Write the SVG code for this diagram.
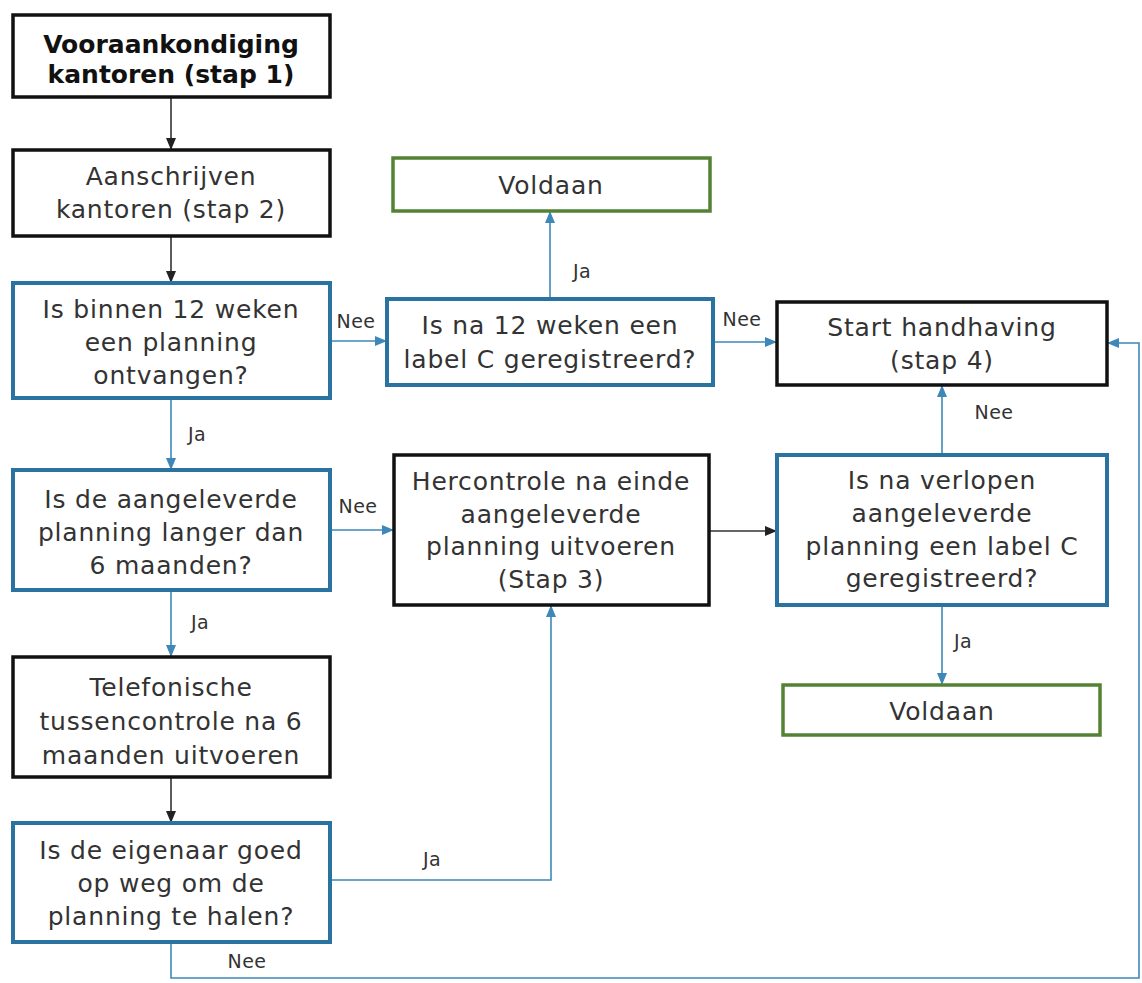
<svg xmlns="http://www.w3.org/2000/svg" width="1142" height="983" viewBox="0 0 1142 983">
<style>
.bk{fill:#fff;stroke:#111;stroke-width:3.5}
.bl{fill:#fff;stroke:#2a73a0;stroke-width:4}
.gr{fill:#fff;stroke:#548235;stroke-width:3.5}
.t{font-family:"DejaVu Sans",Verdana,sans-serif;font-size:25px;letter-spacing:0.8px;fill:#333;text-anchor:middle}
.tb{font-family:"DejaVu Sans",Verdana,sans-serif;font-size:25px;font-weight:bold;fill:#111;text-anchor:middle}
.l{font-family:"DejaVu Sans",Verdana,sans-serif;font-size:19px;letter-spacing:0.5px;fill:#333;text-anchor:middle}
.cb{fill:none;stroke:#333;stroke-width:1.6}
.cu{fill:none;stroke:#3d88b8;stroke-width:1.6}
</style>
<defs>
<marker id="ab" markerUnits="userSpaceOnUse" markerWidth="12" markerHeight="12" viewBox="0 0 12 12" refX="11" refY="6" orient="auto"><path d="M0,1 L12,6 L0,11 Z" fill="#222"/></marker>
<marker id="au" markerUnits="userSpaceOnUse" markerWidth="12" markerHeight="12" viewBox="0 0 12 12" refX="11" refY="6" orient="auto"><path d="M0,1 L12,6 L0,11 Z" fill="#3d88b8"/></marker>
</defs>
<rect width="1142" height="983" fill="#fff"/>
<g id="connectors">
<path class="cb" d="M171,98 V149" marker-end="url(#ab)"/>
<path class="cb" d="M171,237 V282" marker-end="url(#ab)"/>
<path class="cu" d="M171,399 V469" marker-end="url(#au)"/>
<path class="cu" d="M171,591 V656" marker-end="url(#au)"/>
<path class="cb" d="M171,778 V822" marker-end="url(#ab)"/>
<path class="cu" d="M331,341 H386" marker-end="url(#au)"/>
<path class="cu" d="M550,298 V212" marker-end="url(#au)"/>
<path class="cu" d="M714,342 H776" marker-end="url(#au)"/>
<path class="cu" d="M331,530 H393" marker-end="url(#au)"/>
<path class="cb" d="M710,531 H776" marker-end="url(#ab)"/>
<path class="cu" d="M942,454 V386" marker-end="url(#au)"/>
<path class="cu" d="M942,606 V684" marker-end="url(#au)"/>
<path class="cu" d="M331,880 H551 V606" marker-end="url(#au)"/>
<path class="cu" d="M171,943 V978 H1139 V343 H1108" marker-end="url(#au)"/>
<text class="l" x="197" y="441">Ja</text>
<text class="l" x="200" y="629">Ja</text>
<text class="l" x="356" y="328">Nee</text>
<text class="l" x="582" y="278">Ja</text>
<text class="l" x="742" y="326">Nee</text>
<text class="l" x="358" y="513">Nee</text>
<text class="l" x="994" y="419">Nee</text>
<text class="l" x="963" y="648">Ja</text>
<text class="l" x="432" y="866">Ja</text>
<text class="l" x="247" y="968">Nee</text>
</g>
<g id="n1"><rect class="bk" x="13" y="15" width="317" height="82"/>
<text class="tb" x="171" y="53">Vooraankondiging</text><text class="tb" x="171" y="83">kantoren (stap 1)</text></g>
<g id="n2"><rect class="bk" x="13" y="150" width="317" height="86"/>
<text class="t" x="171" y="185">Aanschrijven</text><text class="t" x="171" y="218">kantoren (stap 2)</text></g>
<g id="n3"><rect class="bl" x="13" y="283" width="317" height="115"/>
<text class="t" x="171" y="318">Is binnen 12 weken</text><text class="t" x="171" y="351">een planning</text><text class="t" x="171" y="384">ontvangen?</text></g>
<g id="n4"><rect class="bl" x="13" y="470" width="317" height="120"/>
<text class="t" x="171" y="508">Is de aangeleverde</text><text class="t" x="171" y="541">planning langer dan</text><text class="t" x="171" y="574">6 maanden?</text></g>
<g id="n5"><rect class="bk" x="13" y="657" width="317" height="120"/>
<text class="t" x="171" y="696">Telefonische</text><text class="t" x="171" y="730">tussencontrole na 6</text><text class="t" x="171" y="764">maanden uitvoeren</text></g>
<g id="n6"><rect class="bl" x="13" y="823" width="317" height="119"/>
<text class="t" x="171" y="859">Is de eigenaar goed</text><text class="t" x="171" y="892">op weg om de</text><text class="t" x="171" y="925">planning te halen?</text></g>
<g id="n7"><rect class="gr" x="393" y="158" width="317" height="53"/>
<text class="t" x="551" y="194">Voldaan</text></g>
<g id="n8"><rect class="bl" x="387" y="299" width="326" height="86"/>
<text class="t" x="550" y="334">Is na 12 weken een</text><text class="t" x="550" y="368">label C geregistreerd?</text></g>
<g id="n9"><rect class="bk" x="777" y="302" width="330" height="83"/>
<text class="t" x="942" y="336">Start handhaving</text><text class="t" x="942" y="369">(stap 4)</text></g>
<g id="n10"><rect class="bk" x="394" y="455" width="315" height="150"/>
<text class="t" x="551" y="490">Hercontrole na einde</text><text class="t" x="551" y="523">aangeleverde</text><text class="t" x="551" y="555">planning uitvoeren</text><text class="t" x="551" y="588">(Stap 3)</text></g>
<g id="n11"><rect class="bl" x="777" y="455" width="330" height="150"/>
<text class="t" x="942" y="489">Is na verlopen</text><text class="t" x="942" y="522">aangeleverde</text><text class="t" x="942" y="555">planning een label C</text><text class="t" x="942" y="587">geregistreerd?</text></g>
<g id="n12"><rect class="gr" x="783" y="685" width="317" height="50"/>
<text class="t" x="942" y="720">Voldaan</text></g>
</svg>
